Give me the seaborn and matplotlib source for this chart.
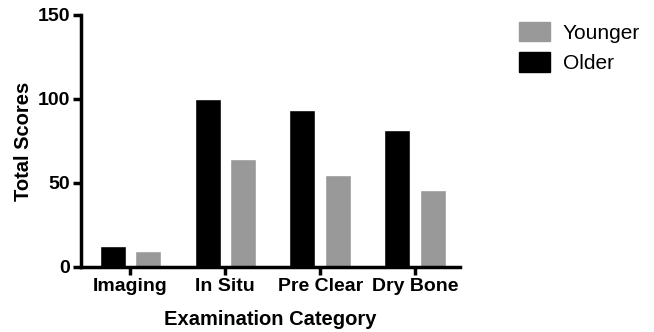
import matplotlib
matplotlib.use("Agg")
import matplotlib.pyplot as plt
import pandas as pd
import seaborn as sns

# Datos
categories = ["Imaging", "In Situ", "Pre Clear", "Dry Bone"]
older = [12.5, 100, 93.5, 81.5]
younger = [9.5, 64, 55, 46]

df = pd.DataFrame({
    "category": categories * 2,
    "group": ["Older"] * 4 + ["Younger"] * 4,
    "score": older + younger,
})

sns.set_style("white")
plt.rcParams["font.family"] = ["Liberation Sans", "DejaVu Sans"]
plt.rcParams["text.color"] = "black"
plt.rcParams["axes.labelcolor"] = "black"
plt.rcParams["xtick.color"] = "black"
plt.rcParams["ytick.color"] = "black"

fig = plt.figure(figsize=(6.54, 3.32), dpi=100)
ax = fig.add_axes([0.124, 0.196, 0.579, 0.759])

palette = {"Older": "#000000", "Younger": "#999999"}
sns.barplot(data=df, x="category", y="score", hue="group",
            hue_order=["Older", "Younger"], palette=palette,
            width=0.75, gap=0.27, saturation=1, ax=ax, legend=False)

ax.set_ylim(0, 150)
ax.set_xlim(-0.52, 3.47)
ax.set_yticks([0, 50, 100, 150])
ax.set_xlabel("Examination Category", fontsize=14.5, fontweight="bold",
              labelpad=11)
ax.set_ylabel("Total Scores", fontsize=14.5, fontweight="bold", labelpad=3)

for lbl in ax.get_xticklabels() + ax.get_yticklabels():
    lbl.set_fontweight("bold")
    lbl.set_fontsize(14)

sns.despine(ax=ax)
for s in ["left", "bottom"]:
    ax.spines[s].set_linewidth(2.5)
    ax.spines[s].set_color("black")
ax.tick_params(axis="both", direction="out", length=6, width=2.5,
               color="black", pad=2, bottom=True, left=True)

# Leyenda con Younger arriba
handles = [plt.Rectangle((0, 0), 1, 1, color=palette["Younger"]),
           plt.Rectangle((0, 0), 1, 1, color=palette["Older"])]
fig.legend(handles, ["Younger", "Older"], loc="upper left",
           bbox_to_anchor=(0.765, 0.99), frameon=False, fontsize=15,
           handlelength=1.5, handleheight=1.05, labelspacing=0.45,
           handletextpad=0.6)

fig.savefig("out.png", dpi=100)
